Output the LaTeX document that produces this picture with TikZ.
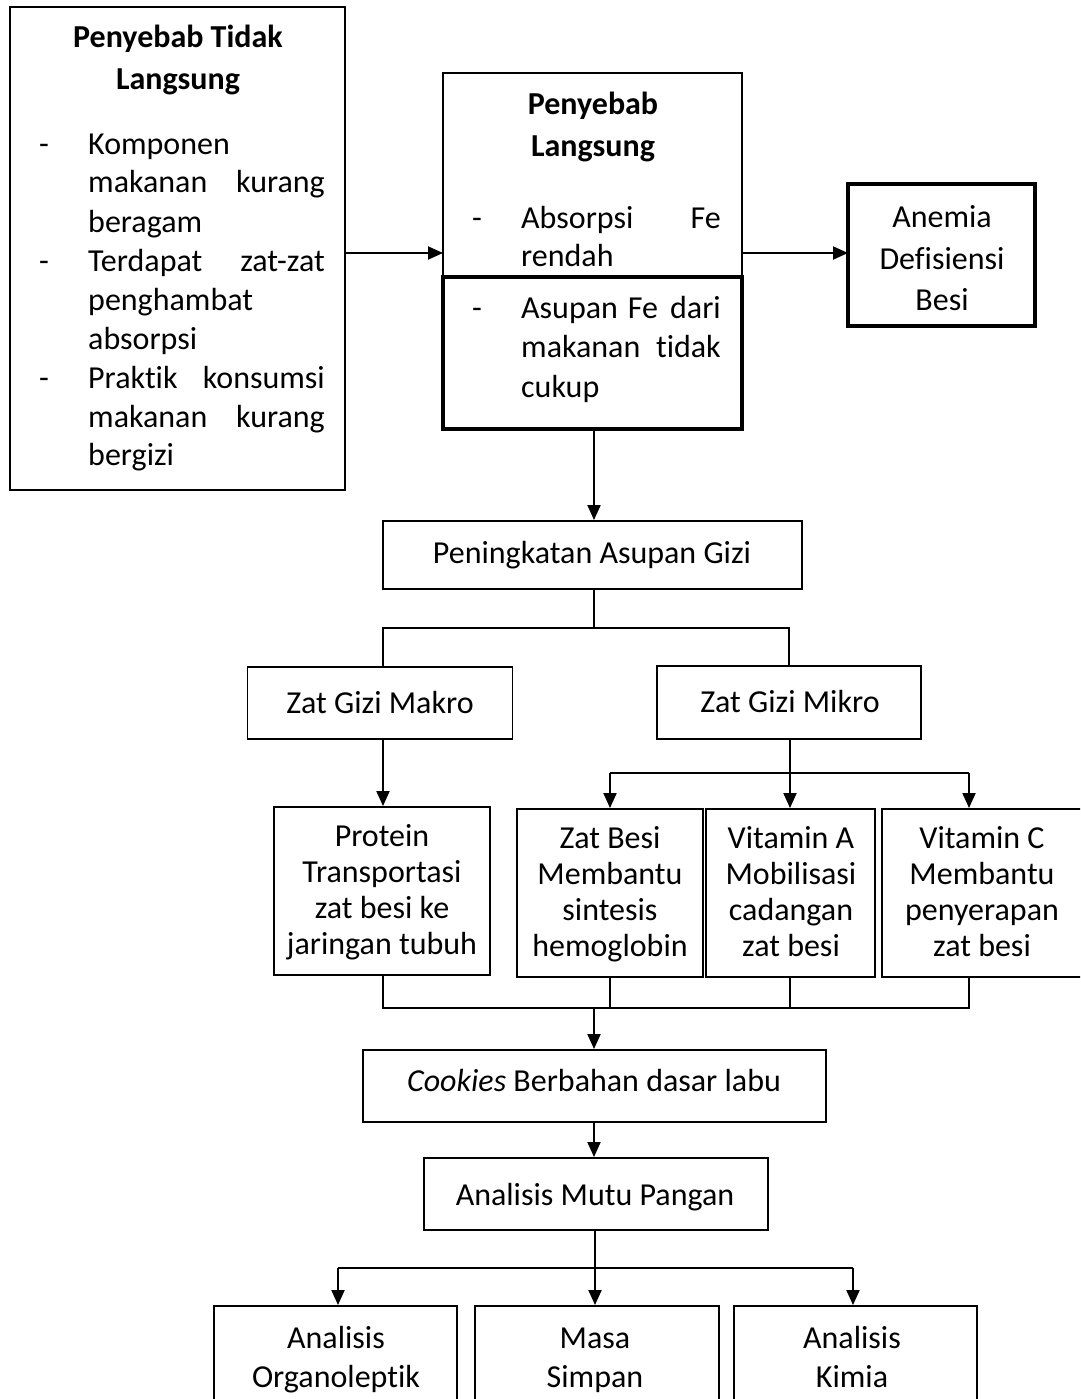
\documentclass[tikz,border=0pt]{standalone}
\usepackage{fontspec}
\setmainfont{Carlito}[Ligatures=NoCommon]
\usetikzlibrary{arrows.meta}
\begin{document}
\begin{tikzpicture}[x=1pt,y=-1pt,
  box/.style={draw, line width=1.9pt},
  thickbox/.style={draw, line width=3.6pt},
  conn/.style={line width=1.9pt},
  arr/.style={line width=1.9pt, -{Triangle[length=15pt,width=13pt]}},
  txt/.style={anchor=base, inner sep=0pt, font=\fontsize{32}{38}\selectfont},
  txtl/.style={txt, anchor=base west},
  txtr/.style={txt, anchor=base east},
  btxt/.style={txt, font=\fontsize{32}{38}\selectfont\bfseries}]
\clip (0,0) rectangle (1080,1399);
\fill[white] (0,0) rectangle (1080,1399);

% ---- Box 1: Penyebab Tidak Langsung
\draw[box] (10,7) rectangle (345,490);
\coordinate (b1e) at (345,253);
\node[btxt] (h1a) at (178,48) {Penyebab Tidak};
\node[btxt] (h1b) at (178,90) {Langsung};
\node[txt] (d1) at (44,155) {-};
\node[txtl] (l1) at (88,155) {Komponen};
\node[txtl] (l2a) at (88,193) {makanan};
\node[txtr] (l2b) at (325,193) {kurang};
\node[txtl] (l3) at (88,232) {beragam};
\node[txt] (d2) at (44,271) {-};
\node[txtl] (l4a) at (88,271) {Terdapat};
\node[txtr] (l4b) at (325,271) {zat-zat};
\node[txtl] (l5) at (88,310) {penghambat};
\node[txtl] (l6) at (88,349) {absorpsi};
\node[txt] (d3) at (44,388) {-};
\node[txtl] (l7a) at (88,388) {Praktik};
\node[txtr] (l7b) at (325,388) {konsumsi};
\node[txtl] (l8a) at (88,427) {makanan};
\node[txtr] (l8b) at (325,427) {kurang};
\node[txtl] (l9) at (88,465) {bergizi};

% ---- Box 2: Penyebab Langsung
\draw[box] (443,73) rectangle (742,277);
\draw[thickbox] (443,277) rectangle (742,429);
\coordinate (b2w) at (443,253);
\coordinate (b2e) at (742,253);
\coordinate (b2s) at (594,429);
\node[btxt] (h2a) at (593,115) {Penyebab};
\node[btxt] (h2b) at (593,157) {Langsung};
\node[txt] (d4) at (477,228) {-};
\node[txtl] (m1a) at (521,228) {Absorpsi};
\node[txtr] (m1b) at (721,228) {Fe};
\node[txtl] (m2) at (521,266) {rendah};
\node[txt] (d5) at (477,318) {-};
\node[txtl] (m3a) at (521,318) {Asupan};
\node[txt] (m3b) at (643,318) {Fe};
\node[txtr] (m3c) at (721,318) {dari};
\node[txtl] (m4a) at (521,357) {makanan};
\node[txtr] (m4b) at (721,357) {tidak};
\node[txtl] (m5) at (521,397) {cukup};

% ---- Anemia
\draw[thickbox] (848,184) rectangle (1035,326);
\coordinate (anw) at (848,253);
\node[txt] (an1) at (942,227) {Anemia};
\node[txt] (an2) at (942,269) {Defisiensi};
\node[txt] (an3) at (942,310) {Besi};

\draw[arr] (b1e) -- (b2w);
\draw[arr] (b2e) -- (anw);

% ---- Peningkatan Asupan Gizi
\node[box, minimum width=419pt, minimum height=68pt, inner sep=0pt] (pag) at (592.5,555) {};
\node[txt] (pagt) at (592,563) {Peningkatan Asupan Gizi};
\draw[arr] (b2s) -- (pag.north -| b2s);

% ---- Makro / Mikro
\node[box, minimum width=265pt, minimum height=72pt, inner sep=0pt] (mak) at (380,703) {};
\node[txt] (makt) at (380,713) {Zat Gizi Makro};
\node[box, minimum width=264pt, minimum height=73pt, inner sep=0pt] (mik) at (789,702.5) {};
\node[txt] (mikt) at (790,712) {Zat Gizi Mikro};
\coordinate (j1) at (594,628);
\draw[conn] (pag.south -| j1) -- (j1);
\draw[conn] (383,667) -- (383,628) -- (789,628) -- (789,666);

% ---- Row of 4
\node[box, minimum width=216pt, minimum height=168pt, inner sep=0pt] (pro) at (382,891) {};
\node[box, minimum width=186pt, minimum height=168pt, inner sep=0pt] (fe) at (610,893) {};
\node[box, minimum width=169pt, minimum height=168pt, inner sep=0pt] (va) at (790.5,893) {};
\node[box, minimum width=208pt, minimum height=168pt, inner sep=0pt] (vc) at (986,893) {};

\node[txt] (p1) at (382,846) {Protein};
\node[txt] (p2) at (382,882) {Transportasi};
\node[txt] (p3) at (382,918) {zat besi ke};
\node[txt] (p4) at (382,954) {jaringan tubuh};

\node[txt] (f1) at (610,848) {Zat Besi};
\node[txt] (f2) at (610,884) {Membantu};
\node[txt] (f3) at (610,920) {sintesis};
\node[txt] (f4) at (610,956) {hemoglobin};

\node[txt] (a1) at (791,848) {Vitamin A};
\node[txt] (a2) at (791,884) {Mobilisasi};
\node[txt] (a3) at (791,920) {cadangan};
\node[txt] (a4) at (791,956) {zat besi};

\node[txt] (c1) at (982,848) {Vitamin C};
\node[txt] (c2) at (982,884) {Membantu};
\node[txt] (c3) at (982,920) {penyerapan};
\node[txt] (c4) at (982,956) {zat besi};

\draw[arr] (mak.south -| 383,0) -- (pro.north -| 383,0);
\draw[arr] (mik.south -| 790,0) -- (va.north -| 790,0);
\draw[arr] (610,773) -- (fe.north);
\draw[arr] (969,773) -- (vc.north -| 969,0);
\draw[conn] (610,773) -- (969,773);

% ---- joining lines
\draw[conn] (383,975) -- (383,1008) -- (969,1008) -- (969,977);
\draw[conn] (fe.south) -- (610,1008);
\draw[conn] (va.south -| 790,0) -- (790,1008);

% ---- Cookies
\node[box, minimum width=463pt, minimum height=72pt, inner sep=0pt] (ck) at (594.5,1086) {};
\node[txt] (ckt) at (594,1091) {\textit{Cookies} Berbahan dasar labu};
\draw[arr] (594,1008) -- (ck.north -| 594,0);

% ---- Analisis Mutu Pangan
\node[box, minimum width=344pt, minimum height=72pt, inner sep=0pt] (amp) at (596,1194) {};
\node[txt] (ampt) at (595,1205) {Analisis Mutu Pangan};
\draw[arr] (ck.south -| 594,0) -- (amp.north -| 594,0);

% ---- Bottom row
\node[box, minimum width=243pt, minimum height=120pt, inner sep=0pt] (org) at (335.5,1366) {};
\node[box, minimum width=244pt, minimum height=120pt, inner sep=0pt] (ms) at (597,1366) {};
\node[box, minimum width=243pt, minimum height=120pt, inner sep=0pt] (km) at (855.5,1366) {};
\node[txt] (o1) at (336,1348) {Analisis};
\node[txt] (o2) at (336,1387) {Organoleptik};
\node[txt] (s1) at (595,1348) {Masa};
\node[txt] (s2) at (595,1387) {Simpan};
\node[txt] (k1) at (852,1348) {Analisis};
\node[txt] (k2) at (852,1387) {Kimia};

\draw[arr] (amp.south -| 595,0) -- (ms.north -| 595,0);
\draw[conn] (338,1268) -- (853,1268);
\draw[arr] (338,1268) -- (org.north -| 338,0);
\draw[arr] (853,1268) -- (km.north -| 853,0);
\end{tikzpicture}
\end{document}
